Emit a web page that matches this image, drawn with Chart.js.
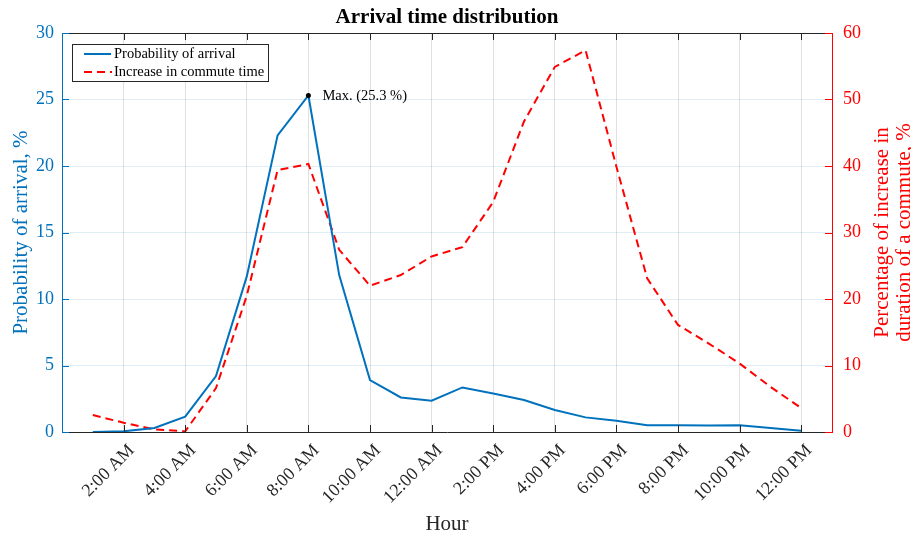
<!DOCTYPE html>
<html>
<head>
<meta charset="utf-8">
<script src="https://cdn.jsdelivr.net/npm/chart.js@4"></script>
<style>
  html, body { margin: 0; padding: 0; background: #fff; }
  #wrap { width: 911px; height: 535px; }
</style>
</head>
<body>
<div id="wrap"><canvas id="grafico"></canvas></div>
<script>
const horas = [1, 2, 3, 4, 5, 6, 7, 8, 9, 10, 11, 12, 13, 14, 15, 16, 17, 18, 19, 20, 21, 22, 23, 24];
const probabilidade = [0, 0.05, 0.3, 1.15, 4.2, 11.7, 22.3, 25.3, 11.8, 3.9, 2.6, 2.35, 3.35, 2.9, 2.4, 1.65, 1.1, 0.85, 0.5, 0.5, 0.48, 0.5, 0.3, 0.1];
const aumento = [2.55, 1.4, 0.4, 0.1, 6.6, 20.5, 39.4, 40.3, 27.4, 22.0, 23.6, 26.4, 27.8, 34.6, 46.7, 54.9, 57.4, 39.9, 23.1, 16.1, 13.3, 10.3, 6.8, 3.6];
const horasTick = [2, 4, 6, 8, 10, 12, 14, 16, 18, 20, 22, 24];
const legendasTick = ['2:00 AM', '4:00 AM', '6:00 AM', '8:00 AM', '10:00 AM', '12:00 AM',
  '2:00 PM', '4:00 PM', '6:00 PM', '8:00 PM', '10:00 PM', '12:00 PM'];

const azul = '#0072BD';
const vermelho = '#FF0000';
const fonte = '"Liberation Serif", "DejaVu Serif", serif';

function pontos(valores){
  return horas.map((h, i) => ({ x: h, y: valores[i] }))
}

const extras = {
  id: 'extras',
  afterDraw(chart){
    const ctx = chart.ctx;
    const area = chart.chartArea;
    const x = chart.scales.x, yE = chart.scales.y, yD = chart.scales.y2;
    ctx.save();
    // borda de cima
    ctx.strokeStyle = '#262626';
    ctx.lineWidth = 1;
    ctx.beginPath();
    ctx.moveTo(area.left, area.top + 0.5);
    ctx.lineTo(area.right, area.top + 0.5);
    ctx.stroke();
    // ticks para dentro
    horasTick.forEach(h => {
      let px = Math.round(x.getPixelForValue(h)) + 0.5;
      ctx.beginPath();
      ctx.moveTo(px, area.bottom); ctx.lineTo(px, area.bottom - 7);
      ctx.moveTo(px, area.top); ctx.lineTo(px, area.top + 7);
      ctx.stroke();
    });
    ctx.strokeStyle = azul;
    for (let v = 0; v <= 30; v += 5){
      let py = Math.round(yE.getPixelForValue(v)) + 0.5;
      ctx.beginPath(); ctx.moveTo(area.left, py); ctx.lineTo(area.left + 7, py); ctx.stroke();
    }
    ctx.strokeStyle = vermelho;
    for (let v = 0; v <= 60; v += 10){
      let py = Math.round(yD.getPixelForValue(v)) + 0.5;
      ctx.beginPath(); ctx.moveTo(area.right, py); ctx.lineTo(area.right - 7, py); ctx.stroke();
    }

    // titulo
    ctx.fillStyle = '#000';
    ctx.font = 'bold 21px ' + fonte;
    ctx.textAlign = 'center';
    ctx.textBaseline = 'middle';
    ctx.fillText('Arrival time distribution', (area.left + area.right) / 2, 18);

    // titulo eixo x
    ctx.font = '21px ' + fonte;
    ctx.fillStyle = '#262626';
    ctx.fillText('Hour', (area.left + area.right) / 2, 524);

    // titulos eixos y
    ctx.save();
    ctx.translate(21, (area.top + area.bottom) / 2);
    ctx.rotate(-Math.PI / 2);
    ctx.fillStyle = azul;
    ctx.fillText('Probability of arrival, %', 0, 0);
    ctx.restore();
    ctx.save();
    ctx.translate(882, (area.top + area.bottom) / 2);
    ctx.rotate(-Math.PI / 2);
    ctx.fillStyle = vermelho;
    ctx.fillText('Percentage of increase in', 0, 0);
    ctx.fillText('duration of a commute, %', 0, 22);
    ctx.restore();

    // marcador do maximo
    let iMax = probabilidade.indexOf(Math.max(...probabilidade));
    let mx = x.getPixelForValue(horas[iMax]);
    let my = yE.getPixelForValue(probabilidade[iMax]);
    ctx.fillStyle = '#000';
    ctx.beginPath(); ctx.arc(mx, my, 2.5, 0, Math.PI * 2); ctx.fill();
    ctx.font = '14.5px ' + fonte;
    ctx.textAlign = 'left';
    ctx.fillText('Max. (' + probabilidade[iMax].toFixed(1) + ' %)', mx + 14, my + 1);

    // legenda
    ctx.fillStyle = '#fff';
    ctx.fillRect(72, 44, 196, 38);
    ctx.strokeStyle = '#262626';
    ctx.lineWidth = 1;
    ctx.strokeRect(72.5, 44.5, 196, 37);
    ctx.lineWidth = 2;
    ctx.strokeStyle = azul;
    ctx.beginPath(); ctx.moveTo(84, 54); ctx.lineTo(111, 54); ctx.stroke();
    ctx.strokeStyle = vermelho;
    ctx.setLineDash([8, 5]);
    ctx.beginPath(); ctx.moveTo(84, 72); ctx.lineTo(112, 72); ctx.stroke();
    ctx.setLineDash([]);
    ctx.fillStyle = '#000';
    ctx.font = '14.5px ' + fonte;
    ctx.fillText('Probability of arrival', 114, 54);
    ctx.fillText('Increase in commute time', 114, 72);
    ctx.restore();
  }
};

const grafico = new Chart(document.querySelector('#grafico'), {
  type: 'line',
  data: {
    datasets: [{
      label: 'Probability of arrival',
      data: pontos(probabilidade),
      borderColor: azul,
      borderWidth: 2,
      pointRadius: 0,
      tension: 0,
      yAxisID: 'y'
    }, {
      label: 'Increase in commute time',
      data: pontos(aumento),
      borderColor: vermelho,
      borderWidth: 2,
      borderDash: [8, 5],
      pointRadius: 0,
      tension: 0,
      yAxisID: 'y2'
    }]
  },
  options: {
    responsive: true,
    maintainAspectRatio: false,
    animation: false,
    layout: { padding: { top: 33, left: 0, right: 0, bottom: 0 } },
    plugins: { legend: { display: false }, tooltip: { enabled: false }, title: { display: false } },
    scales: {
      x: {
        type: 'linear',
        min: 0,
        max: 25,
        afterBuildTicks: s => { s.ticks = horasTick.map(v => ({ value: v })) },
        afterFit: s => { s.height = 103 },
        grid: { color: 'rgba(0,0,0,0.12)', drawTicks: false },
        border: { color: '#262626' },
        ticks: {
          autoSkip: false,
          maxRotation: 45,
          minRotation: 45,
          padding: 8,
          labelOffset: 8,
          color: '#262626',
          font: { family: fonte, size: 18 },
          callback: v => legendasTick[horasTick.indexOf(v)]
        }
      },
      y: {
        position: 'left',
        min: 0,
        max: 30,
        afterFit: s => { s.width = 62 },
        grid: { color: 'rgba(0,114,189,0.13)', drawTicks: false },
        border: { color: azul },
        ticks: { stepSize: 5, padding: 8, color: azul, font: { family: fonte, size: 18 } }
      },
      y2: {
        position: 'right',
        min: 0,
        max: 60,
        afterFit: s => { s.width = 79 },
        grid: { drawOnChartArea: false, drawTicks: false },
        border: { color: vermelho },
        ticks: { stepSize: 10, padding: 11, color: vermelho, font: { family: fonte, size: 18 } }
      }
    }
  },
  plugins: [extras]
});
</script>
</body>
</html>
